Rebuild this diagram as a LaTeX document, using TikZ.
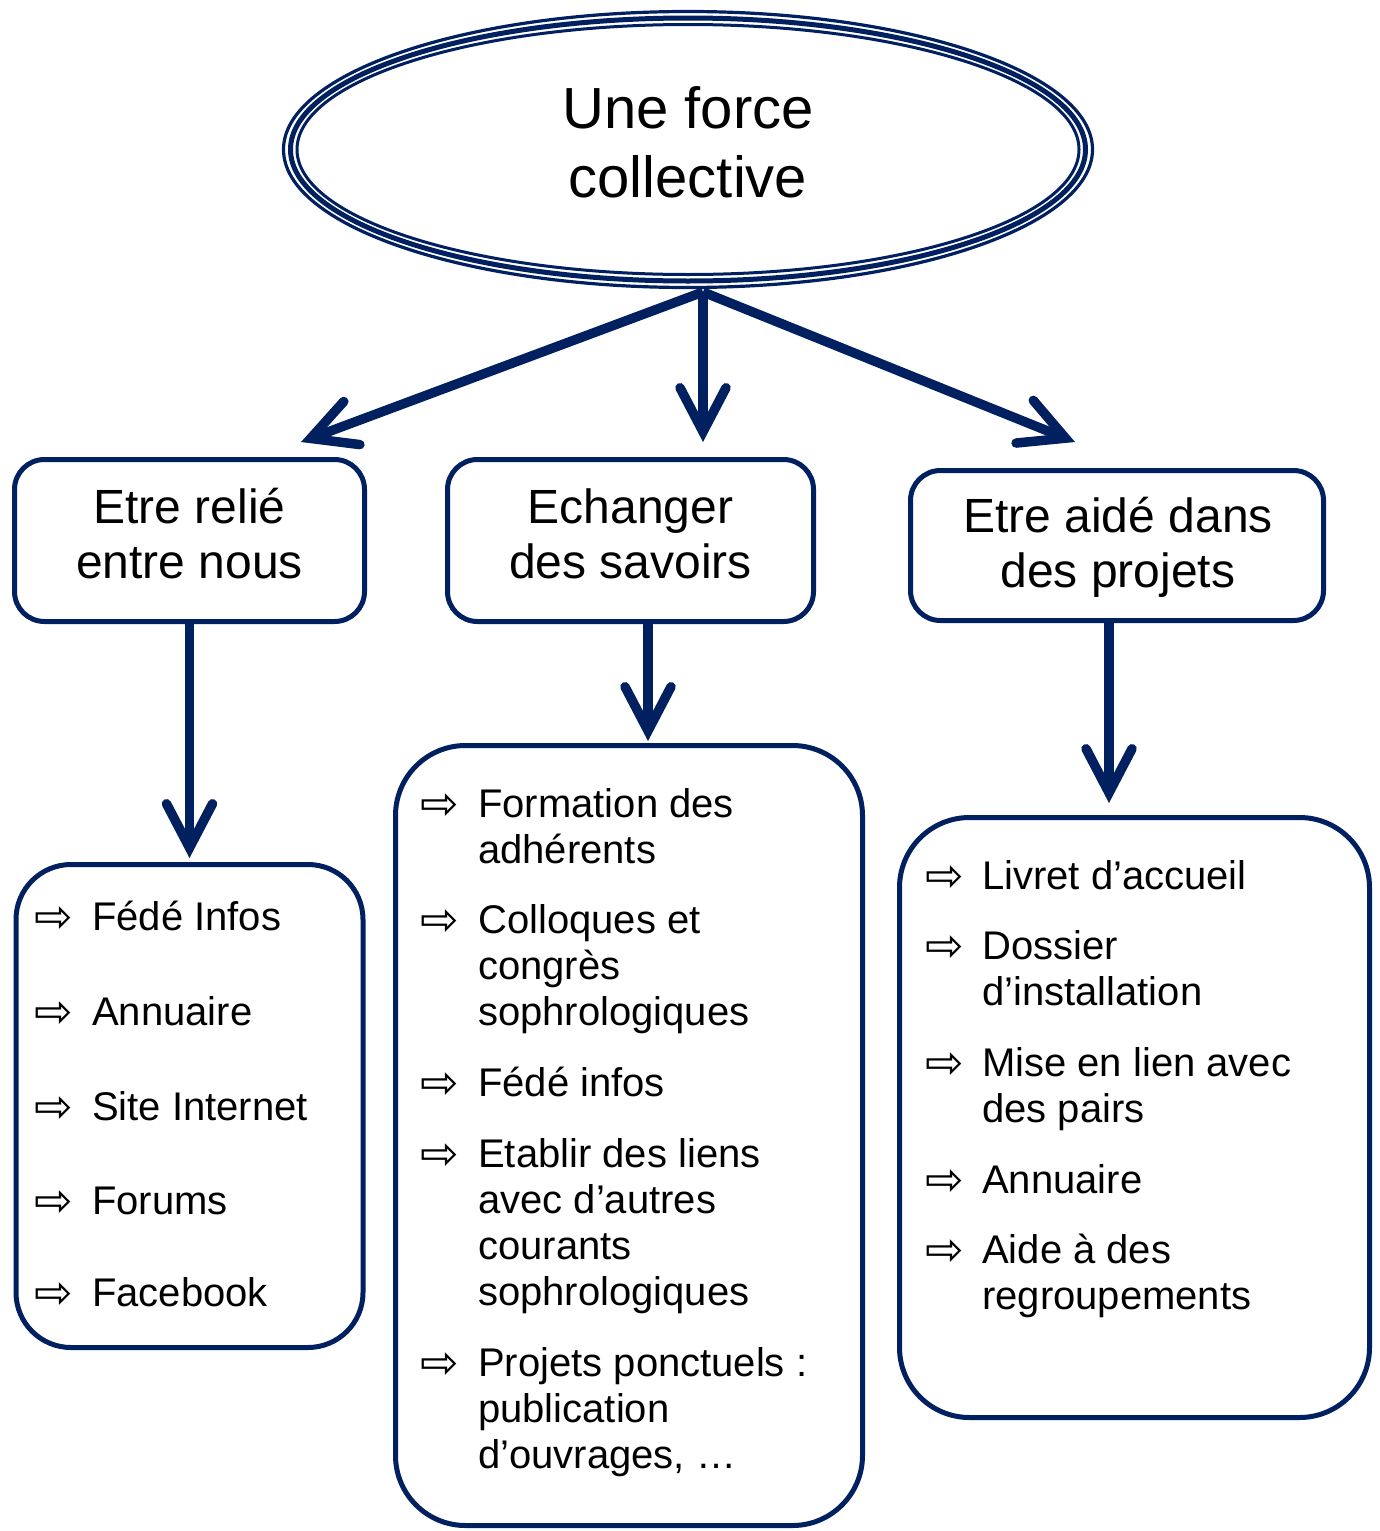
\documentclass[tikz,border=0pt]{standalone}
\usepackage{fontspec}
\setmainfont{Liberation Sans}
\newfontfamily\dejavu{DejaVu Sans}
\usetikzlibrary{shapes.geometric,arrows.meta}
\definecolor{navy}{RGB}{0,32,96}
\begin{document}
\begin{tikzpicture}[x=1pt,y=-1pt,
  frame/.style={draw=navy, line width=5pt, rounded corners=#1, inner sep=0pt, outer sep=0pt, fill=white},
  arr/.style={draw=navy, line width=9.5pt, -{Straight Barb[length=44pt,width=46pt,line cap=round,line join=miter]}},
  titletext/.style={anchor=base, inner sep=0pt, font=\fontsize{58}{69}\selectfont},
  boxtext/.style={anchor=base, inner sep=0pt, font=\fontsize{48}{55}\selectfont},
  lst/.style={anchor=base west, inner sep=0pt, font=\fontsize{40}{46}\selectfont},
  bul/.style={anchor=base west, inner sep=0pt, xshift=-3pt, yshift=-2pt, font=\dejavu\fontsize{46}{46}\selectfont}]
\useasboundingbox (0,0) rectangle (1379,1531);
\fill[white] (0,0) rectangle (1379,1531);

% title ellipse (triple line)
\node[draw=navy, line width=3.2pt, ellipse, minimum width=809pt, minimum height=276pt, inner sep=0pt, outer sep=0pt] (title) at (688,149.5) {};
\draw[navy, line width=5pt] (title.center) ellipse [x radius=397.5pt, y radius=131.5pt];
\draw[navy, line width=3pt] (title.center) ellipse [x radius=391pt, y radius=125pt];
\node[titletext] (titlet) at (688,128) {\begin{tabular}[t]{@{}c@{}}Une force\\collective\end{tabular}};

% second-level boxes
\node[frame=30pt, minimum width=350pt, minimum height=162pt] (box1) at (189.5,540.5) {};
\node[frame=30pt, minimum width=366pt, minimum height=162pt] (box2) at (630.5,540.5) {};
\node[frame=30pt, minimum width=413pt, minimum height=150pt] (box3) at (1117,545.5) {};
\node[boxtext] (box1t) at (189.5,523) {\begin{tabular}[t]{@{}c@{}}Etre relié\\entre nous\end{tabular}};
\node[boxtext] (box2t) at (630.5,523) {\begin{tabular}[t]{@{}c@{}}Echanger\\des savoirs\end{tabular}};
\node[boxtext] (box3t) at (1118,532) {\begin{tabular}[t]{@{}c@{}}Etre aidé dans\\des projets\end{tabular}};

% list boxes
\node[frame=55pt, minimum width=347pt, minimum height=483pt] (list1) at (189.5,1106) {};
\node[frame=70pt, minimum width=467pt, minimum height=780pt] (list2) at (629,1135.5) {};
\node[frame=70pt, minimum width=470pt, minimum height=600pt] (list3) at (1134.5,1117.5) {};

% arrows from title
\coordinate (hub) at (703,292);
\coordinate (tipL) at (301,442);
\coordinate (tipM) at (703,442);
\coordinate (tipR) at (1075,442);
\draw[arr] (hub) -- (tipL);
\draw[arr] (hub) -- (tipM);
\draw[arr] (hub) -- (tipR);

% arrows from boxes to lists
\draw[arr] (box1.south) -- ([yshift=6.5pt]list1.north);
\draw[arr] ([xshift=17.5pt]box2.south) -- ([xshift=19pt,yshift=4.5pt]list2.north);
\draw[arr] ([xshift=-8pt]box3.south) -- ([xshift=-25.5pt,yshift=14.5pt]list3.north);

% list 1
\node[bul] (b1a) at (37,930) {⇨};
\node[lst] (t1a) at (92,930) {Fédé Infos};
\node[bul] (b1b) at (37,1025) {⇨};
\node[lst] (t1b) at (92,1025) {Annuaire};
\node[bul] (b1c) at (37,1120) {⇨};
\node[lst] (t1c) at (92,1120) {Site Internet};
\node[bul] (b1d) at (37,1214) {⇨};
\node[lst] (t1d) at (92,1214) {Forums};
\node[bul] (b1e) at (37,1306) {⇨};
\node[lst] (t1e) at (92,1306) {Facebook};

% list 2
\node[bul] (b2a) at (423,817) {⇨};
\node[lst] (t2a) at (478,817) {\begin{tabular}[t]{@{}l@{}}Formation des\\adhérents\end{tabular}};
\node[bul] (b2b) at (423,933) {⇨};
\node[lst] (t2b) at (478,933) {\begin{tabular}[t]{@{}l@{}}Colloques et\\congrès\\sophrologiques\end{tabular}};
\node[bul] (b2c) at (423,1096) {⇨};
\node[lst] (t2c) at (478,1096) {Fédé infos};
\node[bul] (b2d) at (423,1167) {⇨};
\node[lst] (t2d) at (478,1167) {\begin{tabular}[t]{@{}l@{}}Etablir des liens\\avec d’autres\\courants\\sophrologiques\end{tabular}};
\node[bul] (b2e) at (423,1376) {⇨};
\node[lst] (t2e) at (478,1376) {\begin{tabular}[t]{@{}l@{}}Projets ponctuels :\\publication\\d’ouvrages, …\end{tabular}};

% list 3
\node[bul] (b3a) at (928,889) {⇨};
\node[lst] (t3a) at (982,889) {Livret d’accueil};
\node[bul] (b3b) at (928,959) {⇨};
\node[lst] (t3b) at (982,959) {\begin{tabular}[t]{@{}l@{}}Dossier\\d’installation\end{tabular}};
\node[bul] (b3c) at (928,1076) {⇨};
\node[lst] (t3c) at (982,1076) {\begin{tabular}[t]{@{}l@{}}Mise en lien avec\\des pairs\end{tabular}};
\node[bul] (b3d) at (928,1193) {⇨};
\node[lst] (t3d) at (982,1193) {Annuaire};
\node[bul] (b3e) at (928,1263) {⇨};
\node[lst] (t3e) at (982,1263) {\begin{tabular}[t]{@{}l@{}}Aide à des\\regroupements\end{tabular}};
\end{tikzpicture}
\end{document}
